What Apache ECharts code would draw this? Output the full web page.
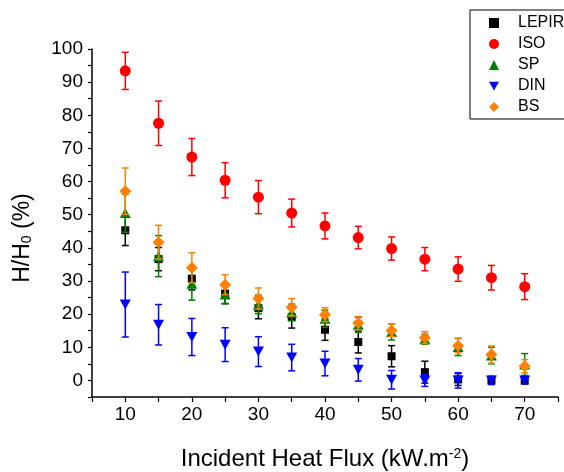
<!DOCTYPE html>
<html>
<head>
<meta charset="utf-8">
<script src="https://cdn.jsdelivr.net/npm/echarts@6/dist/echarts.min.js"></script>
<style>html,body{margin:0;padding:0;background:#fff}#c{width:564px;height:472px}</style>
</head>
<body>
<div id="c"></div>
<script>
const flux = [10, 15, 20, 25, 30, 35, 40, 45, 50, 55, 60, 65, 70];
const lepir = [45.3, 36.6, 30.7, 26.2, 21.8, 19.1, 15.3, 11.6, 7.3, 2.5, 0.3, 0.0, 0.0];
const lepirErr = [4.6, 3.5, 3.4, 3.0, 3.2, 3.3, 3.2, 3.3, 3.2, 3.3, 1.8, 1.2, 1.0];
const iso = [93.4, 77.6, 67.4, 60.4, 55.3, 50.5, 46.6, 43.1, 39.8, 36.6, 33.6, 31.0, 28.3];
const isoErr = [5.6, 6.7, 5.6, 5.3, 5.0, 4.2, 3.9, 3.4, 3.5, 3.5, 3.7, 3.7, 3.9];
const sp = [50.5, 37.5, 29.2, 25.9, 22.9, 20.5, 18.6, 16.8, 14.6, 12.4, 10.1, 7.5, 4.8];
const spErr = [5.8, 6.2, 5.0, 2.8, 2.8, 2.5, 2.6, 2.3, 2.4, 1.5, 2.6, 2.5, 3.3];
const din = [22.9, 16.8, 13.1, 10.8, 8.7, 6.9, 5.1, 3.2, 0.2, 0.0, 0.0, 0.0, 0.0];
const dinErr = [9.8, 6.1, 5.6, 5.1, 4.5, 4.0, 3.7, 3.4, 2.8, 1.8, 2.3, 1.2, 1.0];
const bs = [57.1, 41.7, 34.0, 28.9, 24.7, 22.1, 19.8, 17.3, 15.1, 12.9, 10.5, 7.8, 4.3];
const bsErr = [7.0, 5.1, 4.5, 3.0, 3.2, 2.6, 2.1, 2.0, 1.9, 1.8, 2.2, 2.6, 2.0];
const yTicks = [0, 10, 20, 30, 40, 50, 60, 70, 80, 90, 100];
const xTicks = [10, 20, 30, 40, 50, 60, 70];

const FONT = "'Liberation Sans', Arial, Helvetica, sans-serif";
const defs = [
  {name: 'LEPIR', vals: lepir, err: lepirErr, color: '#000000', symbol: 'rect', size: 8},
  {name: 'ISO', vals: iso, err: isoErr, color: '#ff0000', symbol: 'circle', size: 11},
  {name: 'SP', vals: sp, err: spErr, color: '#008000', symbol: 'triangle', size: [11, 10]},
  {name: 'DIN', vals: din, err: dinErr, color: '#0000ff', symbol: 'path://M0,0L2,0L1,1.75Z', size: [11, 10]},
  {name: 'BS', vals: bs, err: bsErr, color: '#ff8000', symbol: 'diamond', size: 12}
];

function errRender(color) {
  return function (params, api) {
    const x = api.value(0), lo = api.value(1), hi = api.value(2);
    const p1 = api.coord([x, hi]), p2 = api.coord([x, lo]);
    const w = 3.5;
    const style = {stroke: color, lineWidth: 1.5};
    return {type: 'group', children: [
      {type: 'line', shape: {x1: p1[0], y1: p1[1], x2: p2[0], y2: p2[1]}, style: style},
      {type: 'line', shape: {x1: p1[0] - w, y1: p1[1], x2: p1[0] + w, y2: p1[1]}, style: style},
      {type: 'line', shape: {x1: p2[0] - w, y1: p2[1], x2: p2[0] + w, y2: p2[1]}, style: style}
    ]};
  };
}

const series = [];
defs.forEach(function (d, k) {
  series.push({
    name: d.name + ' err', type: 'custom', renderItem: errRender(d.color),
    data: flux.map(function (x, i) { return [x, d.vals[i] - d.err[i], d.vals[i] + d.err[i]]; }),
    encode: {x: 0, y: [1, 2]}, z: 2 + k * 2, silent: true, clip: false
  });
  series.push({
    name: d.name, type: 'scatter', symbol: d.symbol, symbolSize: d.size,
    itemStyle: {color: d.color, opacity: 1},
    data: flux.map(function (x, i) { return [x, d.vals[i]]; }),
    z: 3 + k * 2
  });
});

const chart = echarts.init(document.getElementById('c'), null, {renderer: 'canvas'});
chart.setOption({
  animation: false,
  backgroundColor: '#ffffff',
  textStyle: {fontFamily: FONT},
  grid: {left: 92, right: 6, top: 49, bottom: 75, containLabel: false, outerBoundsMode: 'none'},
  legend: {
    orient: 'vertical', left: 470, top: 10,
    data: defs.map(function (d) { return {name: d.name, icon: d.symbol}; }),
    itemWidth: 10, itemHeight: 10, itemGap: 5,
    symbolKeepAspect: true,
    padding: [5, 20, 4, 19],
    borderColor: '#000', borderWidth: 1, backgroundColor: '#fff',
    textStyle: {fontFamily: FONT, fontSize: 16, color: '#000', padding: [0, 0, 0, 14]},
    z: 20
  },
  xAxis: {
    type: 'value', min: 5, max: 75, interval: 5,
    name: '{a|Incident Heat Flux (kW.m}{s|-2}{a|)}',
    nameLocation: 'middle', nameGap: 50,
    nameTextStyle: {rich: {
      a: {fontFamily: FONT, fontSize: 24, color: '#000'},
      s: {fontFamily: FONT, fontSize: 14, color: '#000', verticalAlign: 'top'}
    }},
    axisLine: {show: true, onZero: false, lineStyle: {color: '#000', width: 1.5}},
    axisTick: {show: true, length: 5, inside: false, lineStyle: {color: '#000', width: 1.2}},
    axisLabel: {
      color: '#000', fontSize: 19, fontFamily: FONT, margin: 8,
      formatter: function (v) { return xTicks.indexOf(v) >= 0 ? String(v) : ''; }
    },
    splitLine: {show: false}
  },
  yAxis: {
    type: 'value', min: -5, max: 100, interval: 5,
    name: '{a|H/H}{b|0}{a| (%)}',
    nameLocation: 'middle', nameGap: 58,
    nameTextStyle: {padding: [0, 30, 0, 0], rich: {
      a: {fontFamily: FONT, fontSize: 23, color: '#000'},
      b: {fontFamily: FONT, fontSize: 14, color: '#000', verticalAlign: 'bottom'}
    }},
    axisLine: {show: true, onZero: false, lineStyle: {color: '#000', width: 1.5}},
    axisTick: {show: true, length: 4, inside: false, lineStyle: {color: '#000', width: 1.2}},
    axisLabel: {
      color: '#000', fontSize: 19, fontFamily: FONT, margin: 9,
      formatter: function (v) { return yTicks.indexOf(v) >= 0 ? String(v) : ''; }
    },
    splitLine: {show: false}
  },
  series: series
});
</script>
</body>
</html>
